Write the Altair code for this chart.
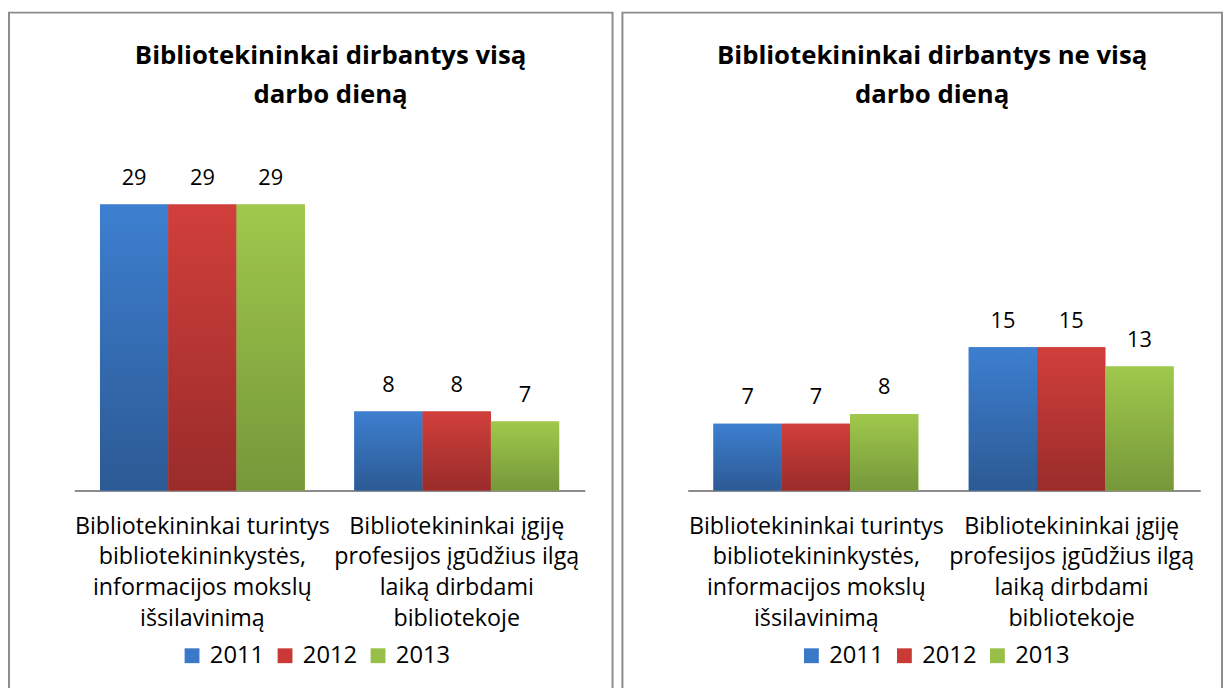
import altair as alt
import pandas as pd

years = ["2011", "2012", "2013"]
categories = [
    "Bibliotekininkai turintys|bibliotekininkystės,|informacijos mokslų|išsilavinimą",
    "Bibliotekininkai įgiję|profesijos įgūdžius ilgą|laiką dirbdami|bibliotekoje",
]
full_time = {"2011": [29, 8], "2012": [29, 8], "2013": [29, 7]}
part_time = {"2011": [7, 15], "2012": [7, 15], "2013": [8, 13]}
titles = [
    ["Bibliotekininkai dirbantys visą", "darbo dieną"],
    ["Bibliotekininkai dirbantys ne visą", "darbo dieną"],
]

solid = ["#3a78c8", "#c93a37", "#98bf48"]
grads = [
    ("#3d7fd0", "#2c5a94"),
    ("#d13f3b", "#992c2a"),
    ("#a0c84c", "#76983a"),
]

FONT = "Open Sans"


def make_df(vals):
    rows = []
    for y in years:
        for c, v in zip(categories, vals[y]):
            rows.append({"cat": c, "year": y, "value": v})
    return pd.DataFrame(rows)


def gradient(top, bottom):
    return alt.LinearGradient(
        gradient="linear", x1=0, y1=0, x2=0, y2=1,
        stops=[alt.GradientStop(offset=0, color=top),
               alt.GradientStop(offset=1, color=bottom)],
    )


def panel(vals, title, width, height, ydom, xrange, pin, pout, title_dx, legend_x):
    df = make_df(vals)
    x = alt.X(
        "cat:N", sort=categories,
        scale=alt.Scale(range=xrange, paddingInner=pin, paddingOuter=pout),
        axis=alt.Axis(
            title=None, orient="bottom", offset=-(height - 483),
            labelExpr="split(datum.label, '|')",
            labelAngle=0, labelFont=FONT, labelFontSize=23.5, labelLineHeight=31,
            labelColor="#000000", labelPadding=24, labelLimit=400,
            domainColor="#8c8c8c", domainWidth=2, ticks=False,
        ),
    )
    xo = alt.XOffset("year:N", scale=alt.Scale(domain=years, paddingInner=0, paddingOuter=0))
    y = alt.Y("value:Q", scale=alt.Scale(domain=ydom, nice=False, zero=False), axis=None)
    base = alt.Chart(df)
    legend_layer = base.mark_bar().encode(
        x=x, xOffset=xo, y=y, y2=alt.datum(0),
        color=alt.Color(
            "year:N", scale=alt.Scale(domain=years, range=solid),
            legend=alt.Legend(
                title=None, orient="none", direction="horizontal",
                legendX=legend_x, legendY=638, padding=0,
                symbolType="square", symbolSize=225, symbolStrokeWidth=0,
                labelFont=FONT, labelFontSize=24, labelColor="#000000",
                labelOffset=6, columnPadding=9,
            ),
        ),
    )
    layers = [legend_layer]
    for yr, (t, b) in zip(years, grads):
        layers.append(
            base.transform_filter(alt.datum.year == yr)
            .mark_bar(color=gradient(t, b))
            .encode(x=x, xOffset=xo, y=y, y2=alt.datum(0))
        )
    labels = base.mark_text(
        font=FONT, fontSize=22, baseline="alphabetic", dy=-20, color="#000000"
    ).encode(x=x, xOffset=xo, y=y, text="value:Q")
    layers.append(labels)
    return alt.layer(*layers).properties(
        width=width, height=height,
        title=alt.TitleParams(
            text=title, orient="top", anchor="middle", offset=-96,
            baseline="top", dx=title_dx,
            font=FONT, fontSize=26, fontWeight="bold", color="#000000",
            lineHeight=39,
        ),
        view=alt.ViewConfig(stroke="#8c8c8c", strokeWidth=2),
    )


H = 684
left = panel(full_time, titles[0], 610, H, [-201 / 9.97, 483 / 9.97],
             [66, 582], 0.1946, 0.101, 20, 173)
right = panel(part_time, titles[1], 606, H, [-201 / 9.65, 483 / 9.65],
              [66, 584], 0.194, 0.1008, 10, 179)

chart = alt.hconcat(left, right, spacing=8).resolve_scale(
    color="independent"
).resolve_legend(color="independent").properties(
    padding=0, background="#ffffff"
).configure_view(fill="#ffffff")

chart.save("out.html", embed_options={"renderer": "svg", "actions": False})
